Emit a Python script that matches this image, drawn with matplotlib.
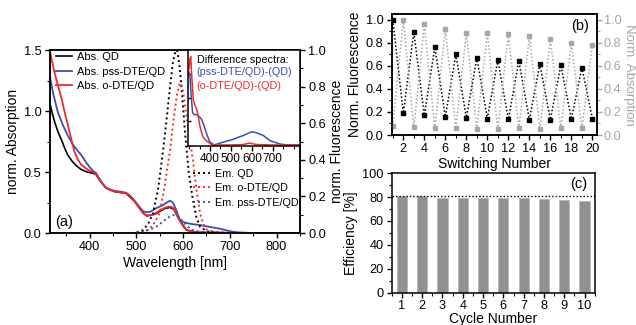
import numpy as np
import matplotlib.pyplot as plt
from matplotlib.ticker import MultipleLocator

plt.rcParams['font.family'] = ['Liberation Sans', 'DejaVu Sans']
plt.rcParams['font.size'] = 9
plt.rcParams['axes.linewidth'] = 1.1
for ax_ in ('xtick', 'ytick'):
    plt.rcParams[ax_ + '.direction'] = 'out'
    plt.rcParams[ax_ + '.major.size'] = 3.5
    plt.rcParams[ax_ + '.minor.size'] = 2.0
    plt.rcParams[ax_ + '.major.width'] = 1.0
    plt.rcParams[ax_ + '.minor.width'] = 0.8
    plt.rcParams[ax_ + '.labelsize'] = 9.2
    plt.rcParams[ax_ + '.major.pad'] = 2.5

# ── (a) absorption spectra (left axis) ───────────────────────────────────────
wl_red = [315, 320, 325, 332, 340, 347, 353, 360, 367, 375, 382, 392, 400, 407, 414,
          420, 428, 435, 445, 453, 465, 478, 487, 496, 505, 514, 522, 530, 540, 550,
          560, 568, 575, 580, 586, 593, 600, 607, 615, 630, 660, 700, 750, 850]
abs_red = [1.49, 1.40, 1.31, 1.21, 1.10, 0.98, 0.89, 0.78, 0.67, 0.60, 0.56, 0.53, 0.51,
           0.50, 0.48, 0.44, 0.40, 0.37, 0.35, 0.34, 0.335, 0.325, 0.30, 0.26, 0.21,
           0.165, 0.145, 0.145, 0.16, 0.185, 0.205, 0.215, 0.215, 0.20, 0.15, 0.10,
           0.055, 0.025, 0.015, 0.008, 0.004, 0.002, 0.0, 0.0]

wl_blue = [315, 322, 332, 342, 353, 365, 375, 382, 392, 400, 407, 414, 420, 428, 435,
           445, 453, 465, 478, 487, 496, 505, 514, 522, 530, 543, 555, 565, 572, 578,
           585, 593, 600, 610, 625, 636, 650, 665, 679, 695, 707, 720, 750, 850]
abs_blue = [1.28, 1.14, 0.99, 0.89, 0.80, 0.72, 0.67, 0.64, 0.58, 0.54, 0.51, 0.49, 0.45,
            0.40, 0.37, 0.355, 0.345, 0.34, 0.33, 0.305, 0.265, 0.22, 0.18, 0.17, 0.175,
            0.205, 0.225, 0.25, 0.265, 0.25, 0.19, 0.11, 0.09, 0.08, 0.07, 0.066, 0.055,
            0.045, 0.035, 0.02, 0.01, 0.005, 0.0, 0.0]

wl_blk = [315, 320, 325, 332, 340, 347, 353, 362, 372, 382, 395, 407, 414, 420, 435,
          453, 478, 496, 514, 522, 540, 560, 572, 580, 593, 607, 630, 700, 850]
abs_blk = [1.06, 0.98, 0.91, 0.83, 0.76, 0.69, 0.64, 0.59, 0.55, 0.52, 0.50, 0.49, 0.48,
           0.44, 0.37, 0.34, 0.325, 0.26, 0.165, 0.14, 0.155, 0.20, 0.21, 0.195, 0.10,
           0.025, 0.005, 0.0, 0.0]

# ── (a) emission spectra (right axis) ────────────────────────────────────────
wl_em_qd = [490, 500, 514, 525, 536, 547, 557, 565, 572, 578, 583, 587, 592, 598, 604,
            612, 621, 628, 636, 650, 670, 700, 750]
em_qd = [0.0, 0.003, 0.016, 0.05, 0.11, 0.25, 0.45, 0.63, 0.80, 0.93, 0.99, 1.0, 0.92,
         0.75, 0.55, 0.33, 0.18, 0.09, 0.035, 0.01, 0.003, 0.0, 0.0]
wl_em_o = [500, 520, 535, 550, 560, 567, 572, 580, 587, 593, 598, 604, 612, 621, 628,
           636, 643, 650, 665, 700, 750]
em_o = [0.0, 0.01, 0.04, 0.11, 0.25, 0.37, 0.45, 0.63, 0.76, 0.82, 0.80, 0.70, 0.55,
        0.40, 0.25, 0.11, 0.05, 0.02, 0.007, 0.0, 0.0]
wl_em_pss = [490, 510, 530, 543, 555, 565, 575, 583, 590, 600, 610, 621, 640, 700, 750]
em_pss = [0.0, 0.005, 0.02, 0.035, 0.06, 0.08, 0.095, 0.10, 0.09, 0.06, 0.035, 0.015,
          0.005, 0.0, 0.0]

# ── (a) inset: difference spectra ────────────────────────────────────────────
wl_d_pss = [300, 305, 310, 317, 325, 337, 348, 360, 372, 385, 400, 420, 448, 480, 512,
            540, 560, 580, 600, 620, 655, 687, 735, 770, 830]
d_pss = [0.77, 0.70, 0.52, 0.34, 0.32, 0.32, 0.30, 0.27, 0.20, 0.11, 0.03, 0.0, 0.02,
         0.04, 0.06, 0.085, 0.10, 0.12, 0.14, 0.13, 0.10, 0.045, 0.01, 0.0, 0.0]
wl_d_o = [300, 304, 308, 313, 320, 328, 337, 345, 352, 360, 368, 380, 392, 410, 500,
          560, 590, 620, 700, 830]
d_o = [0.80, 0.90, 0.93, 0.72, 0.48, 0.42, 0.375, 0.29, 0.20, 0.13, 0.08, 0.05, 0.03,
       0.0, 0.0, 0.005, 0.02, 0.005, 0.0, 0.0]

# ── (b) switching ────────────────────────────────────────────────────────────
switch_n = np.arange(1, 21)
fluor = [1.0, 0.19, 0.894, 0.171, 0.763, 0.157, 0.70, 0.151, 0.671, 0.143,
         0.651, 0.137, 0.643, 0.134, 0.614, 0.134, 0.606, 0.137, 0.586, 0.143]
absorb = [0.08, 1.0, 0.066, 0.96, 0.057, 0.92, 0.057, 0.886, 0.05, 0.886,
          0.05, 0.877, 0.057, 0.857, 0.05, 0.83, 0.057, 0.80, 0.057, 0.786]

# ── (c) efficiency ───────────────────────────────────────────────────────────
cycles = np.arange(1, 11)
efficiency = [80.8, 80.6, 79.2, 78.9, 78.9, 78.9, 78.9, 78.4, 77.6, 76.5]
eff_ref = 81.0

C_BLK, C_BLUE, C_RED = 'black', '#3a4fb0', '#ee2a2a'
C_GRAY = '#a6a6a6'

fig = plt.figure(figsize=(6.36, 3.25), dpi=100)

# ── panel (a) ────────────────────────────────────────────────────────────────
axa = fig.add_axes([0.0786, 0.283, 0.393, 0.563])
axa.plot(wl_blk, abs_blk, color=C_BLK, lw=1.2, label='Abs. QD')
axa.plot(wl_blue, abs_blue, color=C_BLUE, lw=1.3, label='Abs. pss-DTE/QD')
axa.plot(wl_red, abs_red, color=C_RED, lw=1.3, label='Abs. o-DTE/QD')
axa.set_xlim(315, 850)
axa.set_ylim(0, 1.5)
axa.xaxis.set_major_locator(MultipleLocator(100))
axa.xaxis.set_minor_locator(MultipleLocator(50))
axa.yaxis.set_major_locator(MultipleLocator(0.5))
axa.yaxis.set_minor_locator(MultipleLocator(0.25))
axa.set_xlabel('Wavelength [nm]', fontsize=10, labelpad=2)
axa.set_ylabel('norm. Absorption', fontsize=10, labelpad=3)
axa.legend(loc='upper left', bbox_to_anchor=(0.0, 1.02), frameon=False, fontsize=8,
           handlelength=1.5, handletextpad=0.4, labelspacing=0.42, borderaxespad=0.1)
axa.text(0.02, 0.06, '(a)', transform=axa.transAxes, fontsize=10.5, va='center')

axa2 = axa.twinx()
dot = (0, (1, 1.6))
axa2.plot(wl_em_qd, em_qd, color=C_BLK, lw=1.4, ls=dot, label='Em. QD')
axa2.plot(wl_em_o, em_o, color=C_RED, lw=1.4, ls=dot, label='Em. o-DTE/QD')
axa2.plot(wl_em_pss, em_pss, color=C_BLUE, lw=1.4, ls=dot, label='Em. pss-DTE/QD')
axa2.set_ylim(0, 1.0)
axa2.yaxis.set_major_locator(MultipleLocator(0.2))
axa2.yaxis.set_minor_locator(MultipleLocator(0.1))
axa2.set_ylabel('norm. Fluorescence', fontsize=10, labelpad=3)
axa2.legend(loc='upper left', bbox_to_anchor=(0.55, 0.38), frameon=False, fontsize=7.8,
            handlelength=1.6, handletextpad=0.4, labelspacing=0.4, borderaxespad=0.1)

# inset
axi = fig.add_axes([0.2956, 0.551, 0.176, 0.295])
axi.set_zorder(5)
axi.set_facecolor('white')
axi.plot(wl_d_pss, d_pss, color=C_BLUE, lw=1.1)
axi.plot(wl_d_o, d_o, color=C_RED, lw=1.1)
axi.set_xlim(295, 830)
axi.set_ylim(-0.01, 1.0)
axi.xaxis.set_minor_locator(MultipleLocator(50))
axi.set_xticks([400, 500, 600, 700])
axi.tick_params(axis='x', labelsize=8.5, pad=1.5)
axi.set_yticks([0.25, 0.5, 0.75])
axi.tick_params(axis='y', direction='in', labelleft=False, length=2.5)
axi.text(0.078, 0.90, 'Difference spectra:', transform=axi.transAxes, fontsize=7.8,
         va='center', color=C_BLK)
axi.text(0.078, 0.774, '(pss-DTE/QD)-(QD)', transform=axi.transAxes, fontsize=7.8,
         va='center', color=C_BLUE)
axi.text(0.078, 0.625, '(o-DTE/QD)-(QD)', transform=axi.transAxes, fontsize=7.8,
         va='center', color=C_RED)

# ── panel (b) ────────────────────────────────────────────────────────────────
axb = fig.add_axes([0.616, 0.5846, 0.322, 0.372])
axb.plot(switch_n, fluor, color=C_BLK, lw=1.1, ls=(0, (1, 1.4)), marker='s', ms=2.6)
axb.set_xlim(0.9, 20.4)
axb.set_ylim(0, 1.05)
axb.xaxis.set_major_locator(MultipleLocator(2))
axb.xaxis.set_minor_locator(MultipleLocator(1))
axb.yaxis.set_major_locator(MultipleLocator(0.2))
axb.yaxis.set_minor_locator(MultipleLocator(0.1))
axb.set_xlabel('Switching Number', fontsize=10, labelpad=1)
axb.set_ylabel('Norm. Fluorescence', fontsize=10, labelpad=3)
axb.text(0.965, 0.9, '(b)', transform=axb.transAxes, fontsize=10.5, ha='right', va='center')

axb2 = axb.twinx()
axb2.plot(switch_n, absorb, color=C_GRAY, lw=1.1, ls=(0, (1, 1.4)), marker='s', ms=2.6)
axb2.set_ylim(0, 1.05)
axb2.yaxis.set_major_locator(MultipleLocator(0.2))
axb2.yaxis.set_minor_locator(MultipleLocator(0.1))
axb2.tick_params(axis='y', which='both', colors=C_GRAY, pad=1.5)
axb2.set_ylabel('Norm. Absorption', fontsize=9.5, color=C_GRAY, rotation=270,
                labelpad=10)

# ── panel (c) ────────────────────────────────────────────────────────────────
axc = fig.add_axes([0.616, 0.1, 0.319, 0.367])
axc.bar(cycles, efficiency, width=0.5, color='#919191', edgecolor='#b8b8b8', lw=0.6)
axc.axhline(eff_ref, color=C_BLK, lw=1.0, ls=(0, (1, 1.5)))
axc.set_xlim(0.5, 10.5)
axc.set_ylim(0, 100)
axc.set_xticks(cycles)
axc.xaxis.set_minor_locator(MultipleLocator(0.5))
axc.yaxis.set_major_locator(MultipleLocator(20))
axc.yaxis.set_minor_locator(MultipleLocator(10))
axc.tick_params(axis='x', pad=2)
axc.set_xlabel('Cycle Number', fontsize=10, labelpad=0)
axc.set_ylabel('Efficiency [%]', fontsize=10, labelpad=3)
axc.text(0.965, 0.91, '(c)', transform=axc.transAxes, fontsize=10.5, ha='right', va='center')

fig.savefig('out.png', dpi=100)
plt.close(fig)
print('saved')
